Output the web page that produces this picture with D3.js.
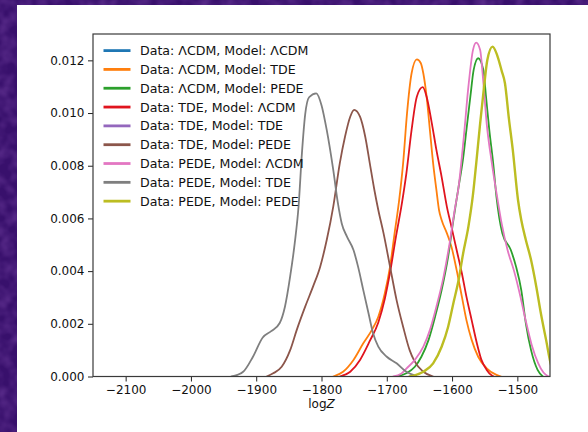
<!DOCTYPE html>
<html>
<head>
<meta charset="utf-8">
<script src="https://cdn.jsdelivr.net/npm/d3@7"></script>
<style>
  html, body { margin: 0; padding: 0; background: #3d1373; }
  svg { display: block; }
</style>
</head>
<body>
<svg id="chart" width="588" height="432"></svg>
<script>
// Evidence distributions: each series is [logZ, density] pairs.
const seriesLabels = [
  "Data: ΛCDM, Model: ΛCDM",
  "Data: ΛCDM, Model: TDE",
  "Data: ΛCDM, Model: PEDE",
  "Data: TDE, Model: ΛCDM",
  "Data: TDE, Model: TDE",
  "Data: TDE, Model: PEDE",
  "Data: PEDE, Model: ΛCDM",
  "Data: PEDE, Model: TDE",
  "Data: PEDE, Model: PEDE"
];

// These two runs are not visible in the plot area; only their legend entries show.
const lcdmLcdm = [];
const tdeTde = [];

const lcdmTde = [
  [-1782, 0], [-1767, 0.00018], [-1751, 0.00063], [-1736, 0.00126], [-1723, 0.00176],
  [-1713, 0.00227], [-1703, 0.00316], [-1695, 0.00417], [-1688, 0.00544], [-1681, 0.0067],
  [-1675, 0.00809], [-1669, 0.00999], [-1662, 0.01151], [-1654, 0.01204], [-1648, 0.0119],
  [-1644, 0.0115], [-1639, 0.01062], [-1634, 0.00936], [-1629, 0.00809], [-1624, 0.00708],
  [-1620, 0.00632], [-1616, 0.00594], [-1608, 0.00544], [-1601, 0.00493], [-1593, 0.00404],
  [-1585, 0.00303], [-1578, 0.00214], [-1570, 0.00139], [-1560, 0.00075], [-1547, 0.00031],
  [-1532, 0.00006], [-1525, 0]
];

const lcdmPede = [
  [-1685, 0], [-1670, 0.00012], [-1657, 0.00037], [-1647, 0.00075], [-1636, 0.00139],
  [-1626, 0.00227], [-1616, 0.00328], [-1606, 0.00455], [-1598, 0.00594], [-1590, 0.0072],
  [-1583, 0.0083], [-1578, 0.00936], [-1572, 0.01062], [-1567, 0.01163], [-1560, 0.01208],
  [-1552, 0.01163], [-1548, 0.01062], [-1543, 0.00936], [-1537, 0.00809], [-1532, 0.00682],
  [-1523, 0.00544], [-1510, 0.0048], [-1502, 0.00417], [-1494, 0.00328], [-1487, 0.00202],
  [-1479, 0.001], [-1469, 0.00025], [-1461, 0]
];

const tdeLcdm = [
  [-1772, 0], [-1756, 0.00018], [-1741, 0.00063], [-1726, 0.00135], [-1713, 0.00205],
  [-1703, 0.00295], [-1695, 0.00395], [-1686, 0.0053], [-1677, 0.00655], [-1670, 0.00771],
  [-1662, 0.00936], [-1654, 0.01062], [-1645, 0.01098], [-1639, 0.01062], [-1631, 0.00961],
  [-1624, 0.0086], [-1616, 0.00758], [-1608, 0.00645], [-1601, 0.00569], [-1593, 0.0048],
  [-1585, 0.00392], [-1578, 0.00303], [-1570, 0.00214], [-1562, 0.00126], [-1555, 0.00063],
  [-1547, 0.00025], [-1539, 0.00004], [-1536, 0]
];

const tdePede = [
  [-1884, 0], [-1874, 0.00012], [-1861, 0.00037], [-1848, 0.001], [-1838, 0.00176],
  [-1825, 0.00265], [-1813, 0.00341], [-1802, 0.00417], [-1792, 0.00518], [-1782, 0.00645],
  [-1772, 0.00809], [-1764, 0.0091], [-1756, 0.00986], [-1750, 0.01012], [-1741, 0.00986],
  [-1733, 0.0091], [-1726, 0.00809], [-1719, 0.00708], [-1713, 0.00632], [-1705, 0.00544],
  [-1695, 0.00417], [-1685, 0.0029], [-1675, 0.00189], [-1665, 0.001], [-1658, 0.0006],
  [-1644, 0.00018], [-1629, 0]
];

const pedeLcdm = [
  [-1690, 0], [-1678, 0.0001], [-1670, 0.0003], [-1657, 0.00063], [-1644, 0.00113],
  [-1634, 0.00176], [-1624, 0.00265], [-1613, 0.00379], [-1603, 0.00518], [-1596, 0.00632],
  [-1590, 0.0072], [-1582, 0.0091], [-1575, 0.011], [-1568, 0.01239], [-1563, 0.01267],
  [-1557, 0.01239], [-1552, 0.01113], [-1547, 0.00961], [-1539, 0.00809], [-1531, 0.00682],
  [-1524, 0.0058], [-1515, 0.0048], [-1505, 0.004], [-1495, 0.003], [-1487, 0.0021],
  [-1478, 0.0012], [-1468, 0.0005], [-1460, 0.00015], [-1452, 0]
];

const pedeTde = [
  [-1938, 0], [-1920, 0.00018], [-1905, 0.00075], [-1890, 0.00148], [-1877, 0.00172],
  [-1864, 0.00203], [-1856, 0.00265], [-1848, 0.0038], [-1841, 0.00506], [-1835, 0.0065],
  [-1830, 0.00847], [-1825, 0.00995], [-1819, 0.0106], [-1808, 0.01075], [-1800, 0.0103],
  [-1792, 0.00936], [-1782, 0.00784], [-1775, 0.0066], [-1769, 0.00581], [-1761, 0.00531],
  [-1751, 0.0048], [-1744, 0.00417], [-1736, 0.00328], [-1728, 0.0024], [-1721, 0.00164],
  [-1713, 0.00113], [-1700, 0.00075], [-1685, 0.0005], [-1670, 0.00018], [-1655, 0.00002]
];

const pedePede = [
  [-1665, 0], [-1644, 0.00018], [-1629, 0.0005], [-1616, 0.00113], [-1606, 0.00189],
  [-1598, 0.00278], [-1590, 0.00366], [-1583, 0.00468], [-1575, 0.00569], [-1568, 0.0069],
  [-1563, 0.00809], [-1557, 0.00961], [-1551, 0.011], [-1546, 0.01201], [-1538, 0.01252],
  [-1531, 0.0122], [-1524, 0.0116], [-1519, 0.01113], [-1513, 0.0098], [-1507, 0.0086],
  [-1499, 0.0067], [-1494, 0.00594], [-1487, 0.00518], [-1479, 0.00442], [-1471, 0.00341],
  [-1464, 0.0024], [-1456, 0.00139], [-1448, 0.0004], [-1442, 0.0001]
];

const xTicks = [-2100, -2000, -1900, -1800, -1700, -1600, -1500];
const yTicks = [0, 0.002, 0.004, 0.006, 0.008, 0.010, 0.012];
const xDomain = [-2150, -1450];
const yDomain = [0, 0.0130];

const seriesData = [lcdmLcdm, lcdmTde, lcdmPede, tdeLcdm, tdeTde, tdePede, pedeLcdm, pedeTde, pedePede];

// ---- drawing ----
const palette = ["#1f77b4", "#ff7f0e", "#2ca02c", "#e0141e", "#9467bd", "#8c564b", "#e377c2", "#7f7f7f", "#bcbd22"];
const W = 588, H = 432;
const plot = { left: 93, right: 550, top: 34, bottom: 376.5 };
const font = "'DejaVu Sans', sans-serif";

const svg = d3.select("#chart");
const defs = svg.append("defs");

// textured purple backdrop
const grain = defs.append("filter").attr("id", "grain")
  .attr("x", 0).attr("y", 0).attr("width", "100%").attr("height", "100%");
grain.append("feTurbulence").attr("type", "fractalNoise")
  .attr("baseFrequency", "0.08").attr("numOctaves", 2).attr("seed", 7);
grain.append("feColorMatrix").attr("type", "matrix")
  .attr("values", "0 0 0 0 0.34  0 0 0 0 0.13  0 0 0 0 0.58  1.2 0 0 0 -0.4");

svg.append("rect").attr("width", W).attr("height", H).attr("fill", "#38106c");
svg.append("rect").attr("width", W).attr("height", H).attr("filter", "url(#grain)").attr("opacity", 0.5);

// figure canvas
svg.append("rect").attr("x", 17).attr("y", 5).attr("width", W - 17).attr("height", H - 5).attr("fill", "#ffffff");

defs.append("clipPath").attr("id", "plotClip")
  .append("rect").attr("x", plot.left).attr("y", plot.top)
  .attr("width", plot.right - plot.left).attr("height", plot.bottom - plot.top);

const x = d3.scaleLinear().domain(xDomain).range([plot.left, plot.right]);
const y = d3.scaleLinear().domain(yDomain).range([plot.bottom, plot.top]);

const line = d3.line()
  .x(d => x(d[0]))
  .y(d => y(d[1]))
  .curve(d3.curveMonotoneX);

const curves = svg.append("g").attr("clip-path", "url(#plotClip)");
seriesData.forEach((data, i) => {
  if (!data.length) return;
  curves.append("path")
    .datum(data)
    .attr("d", line)
    .attr("fill", "none")
    .attr("stroke", palette[i])
    .attr("stroke-width", i === 8 ? 2.4 : 1.8)
    .attr("stroke-linejoin", "round")
    .attr("stroke-linecap", "round");
});

// axes
const xAxis = svg.append("g")
  .attr("transform", `translate(0,${plot.bottom})`)
  .call(d3.axisBottom(x).tickValues(xTicks).tickSize(5).tickPadding(3.5).tickFormat(d3.format("d")));
const yAxis = svg.append("g")
  .attr("transform", `translate(${plot.left},0)`)
  .call(d3.axisLeft(y).tickValues(yTicks).tickSize(5).tickPadding(3.5).tickFormat(d3.format(".3f")));

[xAxis, yAxis].forEach(g => {
  g.select(".domain").remove();
  g.selectAll(".tick line").attr("stroke", "#222").attr("stroke-width", 1);
  g.selectAll(".tick text").attr("fill", "#111").style("font-family", font).style("font-size", "12px");
});

// frame
svg.append("rect")
  .attr("x", plot.left).attr("y", plot.top)
  .attr("width", plot.right - plot.left).attr("height", plot.bottom - plot.top)
  .attr("fill", "none").attr("stroke", "#3a3a3a").attr("stroke-width", 1.2);

// x label
const xl = svg.append("text")
  .attr("x", (plot.left + plot.right) / 2).attr("y", 408)
  .attr("text-anchor", "middle")
  .style("font-family", font).style("font-size", "12px").attr("fill", "#111");
xl.append("tspan").text("log");
xl.append("tspan").attr("font-style", "italic").text("Z");

// legend
const legend = svg.append("g");
seriesLabels.forEach((label, i) => {
  const cy = 50.6 + i * 18.82;
  legend.append("line")
    .attr("x1", 103.5).attr("x2", 130.5).attr("y1", cy).attr("y2", cy)
    .attr("stroke", palette[i]).attr("stroke-width", 2.8);
  legend.append("text")
    .attr("x", 140).attr("y", cy).attr("dy", "0.36em")
    .style("font-family", font).style("font-size", "12.6px").attr("fill", "#111")
    .text(label);
});
</script>
</body>
</html>
